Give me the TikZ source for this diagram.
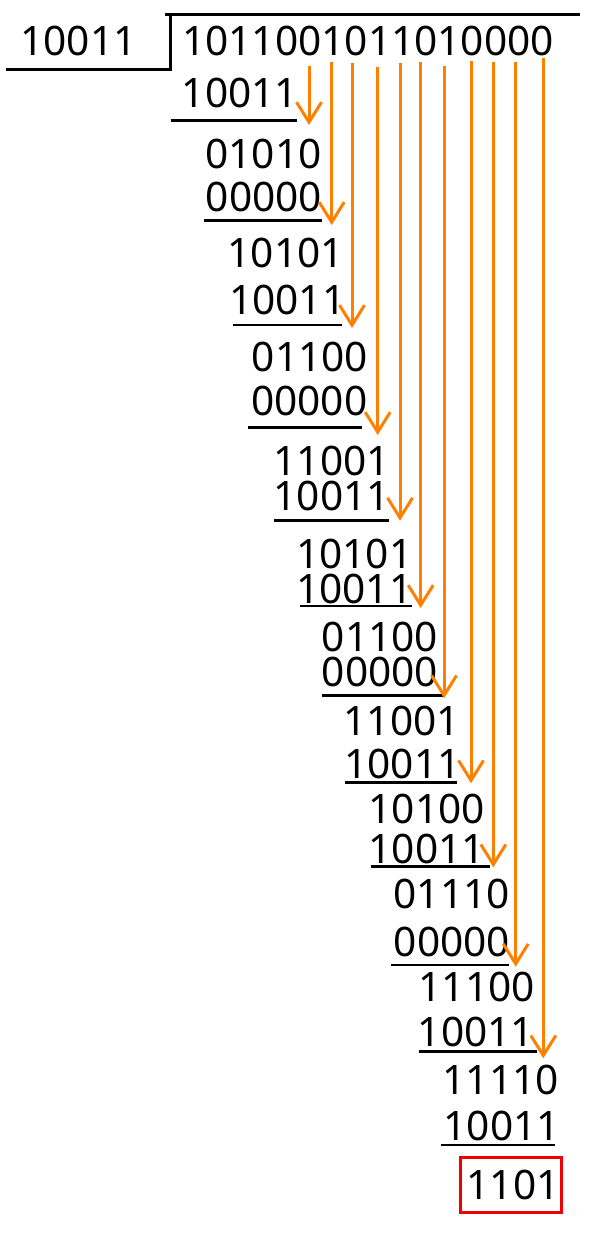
\documentclass[tikz,border=0pt]{standalone}
\usepackage{fontspec}
\setmainfont{Noto Sans}
\usetikzlibrary{arrows.meta}
\definecolor{arrorange}{RGB}{255,128,0}
\definecolor{boxred}{RGB}{240,0,0}
\tikzset{
  num/.style={inner sep=0pt, anchor=base, xshift=2.5pt, font=\fontsize{40.6}{48}\selectfont},
  rule/.style={line width=2.7pt, black},
  bring/.style={line width=3pt, arrorange, -{Straight Barb[length=20pt,width=25pt,line width=3pt]}},
  answer/.style={draw=boxred, line width=2.6pt, inner sep=0pt, minimum width=100.5pt, minimum height=55pt, anchor=center, font=\fontsize{40.6}{48}\selectfont}
}
\begin{document}
\begin{tikzpicture}[x=1pt,y=-1pt]
\useasboundingbox (0,0) rectangle (597,1233);
% divisor bracket
\coordinate (bl) at (6,69.3);
\coordinate (bc) at (170.7,69.3);
\coordinate (tc) at (170.7,14.3);
\coordinate (tl) at (165,14.3);
\coordinate (tr) at (580,14.3);
\draw[rule] (bl) -- (bc) -- (tc);
\draw[rule] (tl) -- (tr);
\node[num] (divisor) at (76,56) {10011};
\node[num] (dividend) at (365.5,56) {1011001011010000};
% rows
\node[num] (r1) at (237.5,108) {10011};
\node[num] (r2) at (261,169) {01010};
\node[num] (r3) at (261.5,211.5) {00000};
\node[num] (r4) at (283.3,267) {10101};
\node[num] (r5) at (284.8,314) {10011};
\node[num] (r6) at (307.5,371.5) {01100};
\node[num] (r7) at (306.8,415.5) {00000};
\node[num] (r8) at (329.2,475) {11001};
\node[num] (r9) at (329.2,510) {10011};
\node[num] (r10) at (351.7,568) {10101};
\node[num] (r11) at (351.7,603) {10011};
\node[num] (r12) at (377.5,651.5) {01100};
\node[num] (r13) at (377.5,686.5) {00000};
\node[num] (r14) at (399.2,735) {11001};
\node[num] (r15) at (400,778) {10011};
\node[num] (r16) at (424.2,823) {10100};
\node[num] (r17) at (424.2,863) {10011};
\node[num] (r18) at (449.2,908) {01110};
\node[num] (r19) at (449.5,956.5) {00000};
\node[num] (r20) at (474.2,1001.5) {11100};
\node[num] (r21) at (473.4,1046) {10011};
\node[num] (r22) at (498.3,1094) {11110};
\node[num] (r23) at (499.2,1140.5) {10011};
\node[answer] (rem) at (511,1184.7) {\hspace*{4pt}1101};
% underlines
\foreach \n/\y/\xa/\xb in {1/120.7/170.7/296.7, 3/220.7/204/321.7, 5/325/232.7/341.7, 7/427.3/248/361.7, 9/520.7/274/389, 11/606/300/411.7, 13/695.7/321.7/443.3, 15/782.7/345/456.7, 17/866.7/371/490, 19/965/390.7/509.3, 21/1051.7/419.3/536.7, 23/1145/440.7/555}{
  \coordinate (ua\n) at (\xa,\y);
  \coordinate (ub\n) at (\xb,\y);
  \draw[rule] (ua\n) -- (ub\n);
}
% bring-down arrows
\foreach \k/\x/\ya/\yb in {1/309/66/125, 2/331.7/62/225, 3/352/63.3/328, 4/377.7/66.7/435, 5/400/63.3/520.7, 6/420.7/62.3/608, 7/444/66/698.3, 8/471/61/783.3, 9/493.3/62.3/867.3, 10/515.7/61.7/966.7, 11/543.3/58.3/1058.3}{
  \coordinate (s\k) at (\x,\ya);
  \coordinate (e\k) at (\x,\yb);
  \draw[bring] (s\k) -- (e\k);
}
\end{tikzpicture}
\end{document}
